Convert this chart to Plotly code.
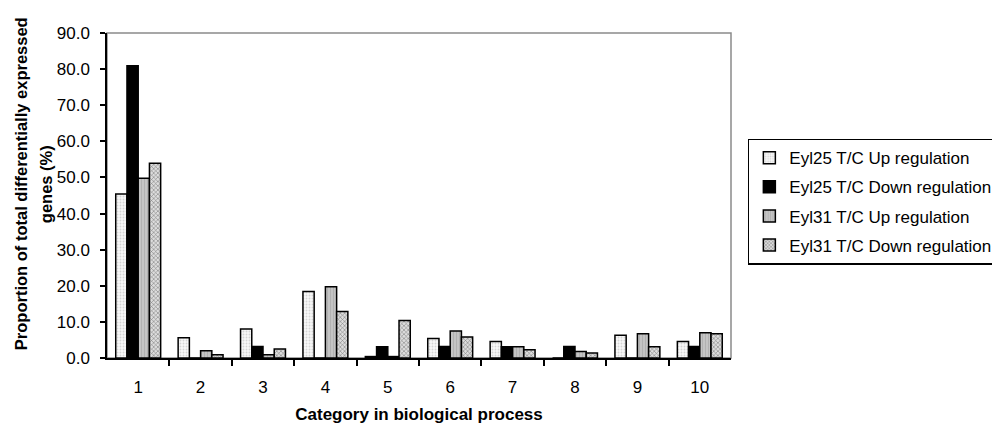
import plotly.graph_objects as go

categories = [1, 2, 3, 4, 5, 6, 7, 8, 9, 10]
series_names = ["Eyl25 T/C Up regulation", "Eyl25 T/C Down regulation",
                "Eyl31 T/C Up regulation", "Eyl31 T/C Down regulation"]
eyl25_up = [45.4, 5.6, 8.0, 18.4, 0.4, 5.4, 4.6, 0.0, 6.3, 4.6]
eyl25_down = [80.9, 0.0, 3.2, 0.0, 3.1, 3.2, 3.1, 3.2, 0.0, 3.2]
eyl31_up = [49.8, 2.0, 0.9, 19.7, 0.4, 7.5, 3.1, 1.8, 6.7, 7.0]
eyl31_down = [53.9, 0.9, 2.5, 12.9, 10.4, 5.8, 2.3, 1.4, 3.1, 6.7]
y_ticks = [0, 10, 20, 30, 40, 50, 60, 70, 80, 90]

styles = [
    dict(color="#f4f4f4", pattern=dict(shape=".", fgcolor="#b0b0b0", bgcolor="#f8f8f8", size=3, solidity=0.3)),
    dict(color="black"),
    dict(color="#bdbdbd", pattern=dict(shape="|", fgcolor="#9a9a9a", bgcolor="#c4c4c4", size=3, solidity=0.3)),
    dict(color="#c8c8c8", pattern=dict(shape="x", fgcolor="#222222", bgcolor="#dddddd", size=3, solidity=0.35)),
]

fig = go.Figure()
for i, (name, vals, st) in enumerate(zip(series_names, [eyl25_up, eyl25_down, eyl31_up, eyl31_down], styles)):
    marker = dict(color=st["color"], line=dict(color="black", width=1.5))
    if "pattern" in st:
        marker["pattern"] = st["pattern"]
    fig.add_trace(go.Bar(x=categories, y=vals, name=name, marker=marker, legendgroup=f"g{i}"))

font = "Liberation Sans, Arial, sans-serif"
title_lines = ["<b>Proportion of total differentially expressed</b>", "<b>genes (%)</b>"]
title_x = [-0.1378, -0.0977]
fig.update_layout(
    width=992, height=425,
    margin=dict(l=99, r=269, t=25, b=75, autoexpand=False),
    paper_bgcolor="white", plot_bgcolor="white",
    barmode="group", bargap=0.28, bargroupgap=0,
    font=dict(family=font, size=16, color="black"),
    showlegend=True,
    legend=dict(x=1.027, y=0.675, xanchor="left", yanchor="top",
                bordercolor="black", borderwidth=1.5, bgcolor="white",
                font=dict(size=17, family=font), tracegroupgap=4,
                itemwidth=30),
    shapes=[dict(type="rect", xref="paper", yref="paper", x0=0, x1=1, y0=0, y1=1,
                 line=dict(color="#8a8a8a", width=1.5), layer="below")],
    annotations=[dict(text=t, xref="paper", yref="paper", x=xp, y=0.535,
                      xanchor="center", yanchor="middle", textangle=-90,
                      showarrow=False, font=dict(size=16.5, family=font))
                 for t, xp in zip(title_lines, title_x)],
)
fig.update_xaxes(
    automargin=False,
    range=[0.5, 10.5], tickvals=categories, ticktext=[str(c) for c in categories],
    ticks="", showgrid=False, showline=True, linecolor="black", linewidth=1.5,
    tickfont=dict(size=17), ticklabelstandoff=13,
    minor=dict(tickvals=[c + 0.5 for c in categories[:-1]], ticks="outside",
               ticklen=6, tickwidth=1.5, tickcolor="black", showgrid=False),
    title=dict(text="<b>Category in biological process</b>", font=dict(size=17), standoff=12),
)
fig.update_yaxes(
    automargin=False,
    range=[0, 90], tickvals=y_ticks, ticktext=[f"{v:.1f}" for v in y_ticks],
    ticks="outside", ticklen=5, tickwidth=1.5, tickcolor="black",
    showgrid=False, showline=True, linecolor="black", linewidth=1.5, zeroline=False,
    tickfont=dict(size=17), ticklabelstandoff=7,
)
fig.write_html("out.html")
